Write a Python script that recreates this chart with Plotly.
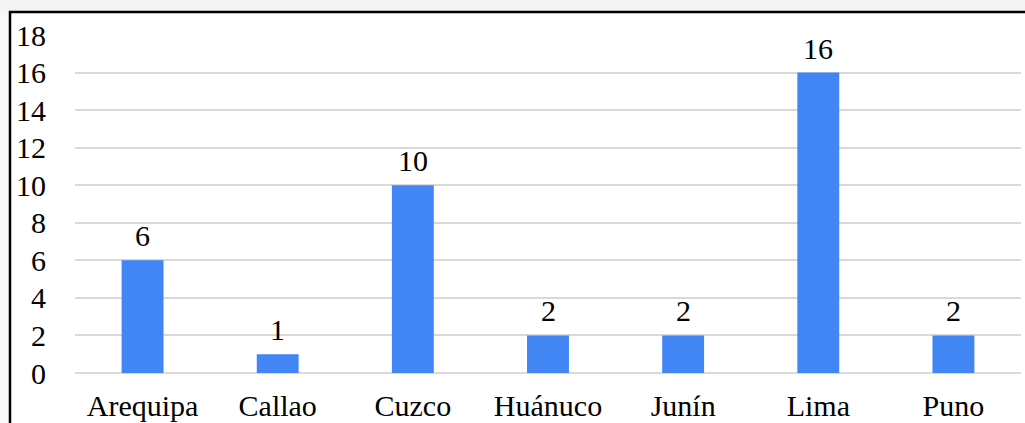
import plotly.graph_objects as go

# Regions and counts
regions = ["Arequipa", "Callao", "Cuzco", "Huánuco", "Junín", "Lima", "Puno"]
counts = [6, 1, 10, 2, 2, 16, 2]
y_ticks = [0, 2, 4, 6, 8, 10, 12, 14, 16, 18]

W, H = 1025, 423
L, R, T, B = 75, 1021, 35, 373  # plot area in pixels
FONT = "Liberation Serif, Times New Roman, serif"
FS = 30

fig = go.Figure(
    go.Bar(
        x=regions,
        y=counts,
        marker=dict(color="#4285F4", line=dict(width=0)),
        hoverinfo="x+y",
    )
)

# Value labels above each bar
for r, v in zip(regions, counts):
    fig.add_annotation(
        x=r, y=v, text=str(v), showarrow=False,
        yanchor="bottom", yshift=6,
        font=dict(family=FONT, size=FS, color="#000000"),
    )

def px_x(p):
    return (p - L) / (R - L)

def px_y(p):
    return (B - p) / (B - T)

# Light strip above the frame and left of it
fig.add_shape(type="rect", xref="paper", yref="paper",
              x0=px_x(0), x1=px_x(W), y0=px_y(12), y1=px_y(0),
              fillcolor="#f3f5f7", line=dict(width=0), layer="below")
fig.add_shape(type="rect", xref="paper", yref="paper",
              x0=px_x(0), x1=px_x(9), y0=px_y(H), y1=px_y(12),
              fillcolor="#f7f9fb", line=dict(width=0), layer="below")
# Black frame on left and top
fig.add_shape(type="path", xref="paper", yref="paper",
              path=f"M {px_x(10)} {px_y(H + 2)} L {px_x(10)} {px_y(12)} L {px_x(W + 2)} {px_y(12)}",
              line=dict(color="#000000", width=2.5))

fig.update_layout(
    width=W,
    height=H,
    margin=dict(l=L, r=W - R, t=T, b=H - B),
    paper_bgcolor="#ffffff",
    plot_bgcolor="#ffffff",
    bargap=0.69,
    showlegend=False,
    font=dict(family=FONT, size=FS, color="#000000"),
    xaxis=dict(
        automargin=False,
        showgrid=False,
        showline=False,
        ticks="",
        tickfont=dict(family=FONT, size=FS),
        ticklabelstandoff=12,
    ),
    yaxis=dict(
        automargin=False,
        range=[0, 18],
        tickvals=y_ticks,
        showgrid=True,
        gridcolor="#d9d9d9",
        gridwidth=1.5,
        zeroline=True,
        zerolinecolor="#d9d9d9",
        zerolinewidth=1.5,
        showline=False,
        ticks="",
        tickfont=dict(family=FONT, size=FS),
        ticklabelstandoff=28,
    ),
)

fig.write_html("out.html")
